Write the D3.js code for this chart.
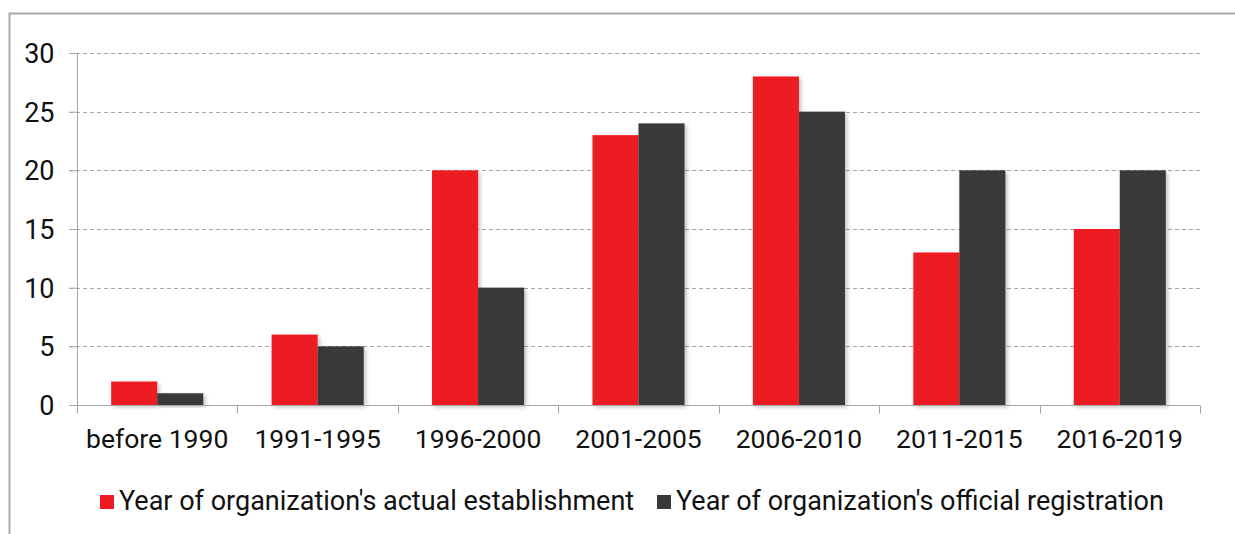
<!DOCTYPE html>
<html>
<head>
<meta charset="utf-8">
<script src="https://cdn.jsdelivr.net/npm/d3@7"></script>
<style>
  html, body { margin: 0; padding: 0; background: #fff; }
  svg { display: block; }
</style>
</head>
<body>
<svg id="chart" width="1235" height="534"></svg>
<script>
// Periods of founding and the two counts per period
const categories = ["before 1990", "1991-1995", "1996-2000", "2001-2005", "2006-2010", "2011-2015", "2016-2019"];
const actualEstablishment = [2, 6, 20, 23, 28, 13, 15];
const officialRegistration = [1, 5, 10, 24, 25, 20, 20];
const seriesNames = ["Year of organization's actual establishment", "Year of organization's official registration"];
const seriesColors = ["#ED1C24", "#3A3938"];
const yTicks = [0, 5, 10, 15, 20, 25, 30];

(function draw() {
  const svg = d3.select("#chart");
  const W = 1235, H = 534;
  const plotL = 77, plotR = 1200, plotT = 53, plotB = 405;

  // Outer frame (top and left edges visible)
  svg.append("path")
    .attr("d", `M9.5,${H} L9.5,13.5 L${W},13.5`)
    .attr("fill", "none").attr("stroke", "#aaaaaa").attr("stroke-width", 2);

  const defs = svg.append("defs");
  const f = defs.append("filter").attr("id", "shadow")
    .attr("x", "-10%").attr("y", "-10%").attr("width", "130%").attr("height", "130%");
  f.append("feDropShadow").attr("dx", 2).attr("dy", 2).attr("stdDeviation", 2)
    .attr("flood-color", "#000").attr("flood-opacity", 0.25);

  const x = d3.scaleBand().domain(categories).range([plotL, plotR]).paddingInner(0).paddingOuter(0);
  const y = d3.scaleLinear().domain([0, 30]).range([plotB, plotT]);
  const barW = x.bandwidth() * 0.287;

  // Horizontal dashed gridlines
  svg.append("g").selectAll("line").data(yTicks.filter(d => d > 0)).join("line")
    .attr("x1", plotL - 8).attr("x2", plotR)
    .attr("y1", d => Math.round(y(d)) + 0.5).attr("y2", d => Math.round(y(d)) + 0.5)
    .attr("stroke", "#a6a6a6").attr("stroke-width", 1).attr("stroke-dasharray", "4,3");

  // Bars
  const groups = svg.append("g").selectAll("g").data(categories).join("g")
    .attr("transform", d => `translate(${x(d) + x.bandwidth() / 2},0)`);
  const series = [actualEstablishment, officialRegistration];
  series.forEach((vals, si) => {
    groups.append("rect")
      .attr("x", si === 0 ? -barW : 0)
      .attr("width", barW)
      .attr("y", (d, i) => y(vals[i]))
      .attr("height", (d, i) => y(0) - y(vals[i]))
      .attr("fill", seriesColors[si])
      .attr("filter", "url(#shadow)");
  });

  // Y axis
  const yAxis = svg.append("g").attr("transform", `translate(${plotL + 0.5},0)`)
    .call(d3.axisLeft(y).tickValues(yTicks).tickSize(8).tickPadding(15));
  yAxis.select(".domain").attr("stroke", "#a6a6a6").attr("d", `M0,${plotT}V${plotB}`);
  yAxis.selectAll(".tick line").attr("stroke", "#a6a6a6");
  yAxis.selectAll(".tick text")
    .attr("font-family", "Roboto, sans-serif")
    .attr("font-size", 27).attr("fill", "#111").attr("dy", "0.35em");

  // X axis with ticks at category boundaries
  const xAxisG = svg.append("g").attr("transform", `translate(0,${plotB + 0.5})`);
  xAxisG.append("line").attr("x1", plotL - 8).attr("x2", plotR)
    .attr("stroke", "#a6a6a6");
  const bounds = categories.map(c => x(c)).concat([plotR]);
  xAxisG.selectAll("line.tk").data(bounds).join("line").attr("class", "tk")
    .attr("x1", d => Math.round(d) + 0.5).attr("x2", d => Math.round(d) + 0.5)
    .attr("y1", 0).attr("y2", 8).attr("stroke", "#a6a6a6");
  xAxisG.selectAll("text").data(categories).join("text")
    .attr("x", d => x(d) + x.bandwidth() / 2).attr("y", 42)
    .attr("text-anchor", "middle")
    .attr("font-family", "Roboto, sans-serif").attr("font-size", 26.5).attr("fill", "#111")
    .text(d => d);

  // Legend
  const legend = svg.append("g");
  const legendX = [100, 657];
  seriesNames.forEach((name, i) => {
    legend.append("rect").attr("x", legendX[i]).attr("y", 495).attr("width", 14).attr("height", 14)
      .attr("fill", seriesColors[i]);
    legend.append("text").attr("x", legendX[i] + 19).attr("y", 509.5)
      .attr("font-family", "Roboto, sans-serif").attr("font-size", 27).attr("fill", "#111")
      .text(name);
  });
})();
</script>
</body>
</html>
